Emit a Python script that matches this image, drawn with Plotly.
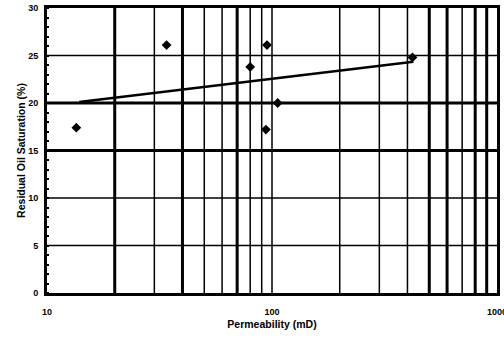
import plotly.graph_objects as go

# Core measurements: permeability (mD) vs residual oil saturation (%)
perm_md = [13.5, 34, 80, 95, 94, 106, 421]
sor_pct = [17.4, 26.1, 23.8, 26.1, 17.2, 20.0, 24.8]

# Logarithmic trend line end points
trend_perm = [13.9, 425]
trend_sor = [20.1, 24.35]

# Axis ticks
x_tickvals = [10, 100, 1000]
x_ticktext = ["10", "100", "1000"]
y_tickvals = [0, 5, 10, 15, 20, 25, 30]

# Grid positions and their stroke weights
x_grid = [20, 30, 40, 50, 60, 70, 80, 90, 100, 200, 300, 400, 500, 600, 700, 800, 900]
x_grid_w = [3, 1.5, 3, 1.5, 1.5, 3, 1.5, 1.5, 1.5, 1.5, 1.5, 1.5, 3, 3, 1.5, 3, 3]
y_grid = [5, 10, 15, 20, 25]
y_grid_w = [1.5, 1.5, 3, 3, 1.5]

FONT = "Arial, Liberation Sans, sans-serif"

fig = go.Figure()

fig.add_trace(go.Scatter(
    x=trend_perm, y=trend_sor, mode="lines",
    line=dict(color="black", width=2.5),
    showlegend=False, hoverinfo="skip",
))
fig.add_trace(go.Scatter(
    x=perm_md, y=sor_pct, mode="markers",
    marker=dict(symbol="diamond", size=7.5, color="black"),
    showlegend=False,
))

shapes = []
for v, w in zip(x_grid, x_grid_w):
    shapes.append(dict(type="line", xref="x", yref="paper", x0=v, x1=v, y0=0, y1=1,
                       line=dict(color="black", width=w), layer="below"))
for v, w in zip(y_grid, y_grid_w):
    shapes.append(dict(type="line", xref="paper", yref="y", x0=0, x1=1, y0=v, y1=v,
                       line=dict(color="black", width=w), layer="below"))

fig.update_layout(
    width=504, height=339,
    margin=dict(l=47, r=7, t=8, b=46),
    paper_bgcolor="white", plot_bgcolor="white",
    font=dict(family=FONT, color="black"),
    shapes=shapes,
    xaxis=dict(
        type="log", range=[1, 3],
        tickvals=x_tickvals, ticktext=x_ticktext,
        tickfont=dict(size=9, weight="bold"),
        ticks="", ticklabelstandoff=8, ticklabeloverflow="allow",
        showgrid=False, zeroline=False,
        showline=True, linecolor="black", linewidth=3, mirror=True,
        title=dict(text="Permeability (mD)", font=dict(size=10.5, weight="bold"), standoff=5),
        automargin=False,
    ),
    yaxis=dict(
        range=[0, 30], tickvals=y_tickvals,
        tickfont=dict(size=9, weight="bold"),
        ticks="", ticklabelstandoff=4,
        showgrid=False, zeroline=False,
        showline=True, linecolor="black", linewidth=3, mirror=True,
        minor=dict(dtick=1, ticks="inside", ticklen=2, tickwidth=1.5, tickcolor="black", showgrid=False),
        title=dict(text="Residual Oil Saturation (%)", font=dict(size=10.5, weight="bold"), standoff=1),
        automargin=False,
    ),
)

fig.write_html("out.html")
